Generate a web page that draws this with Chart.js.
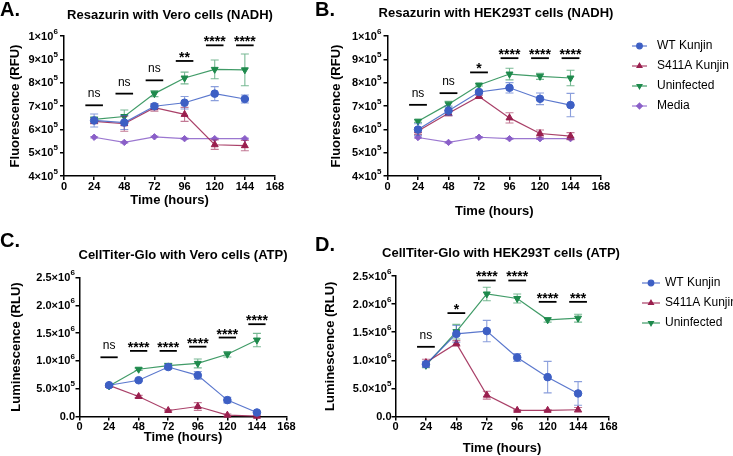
<!DOCTYPE html>
<html><head><meta charset="utf-8">
<script src="https://cdn.jsdelivr.net/npm/chart.js@4.4.1/dist/chart.umd.min.js"></script>
<style>
html,body{margin:0;padding:0;background:#fff;}
#wrap{position:relative;width:733px;height:456px;overflow:hidden;background:#fff;}
canvas{position:absolute;left:0;top:0;}
</style></head><body>
<div id="wrap">
<canvas id="cA" width="733" height="456"></canvas>
<canvas id="cB" width="733" height="456"></canvas>
<canvas id="cC" width="733" height="456"></canvas>
<canvas id="cD" width="733" height="456"></canvas>
</div>
<script>
// ---------- data ----------
const hours = [24, 48, 72, 96, 120, 144];
const seriesNames = ['WT Kunjin', 'S411A Kunjin', 'Uninfected', 'Media'];
const xTicks = ['0', '24', '48', '72', '96', '120', '144', '168'];
// y tick labels: mantissa part and power-of-ten exponent (drawn as superscript)
const yTickBaseAB = ['4×10', '5×10', '6×10', '7×10', '8×10', '9×10', '1×10'];
const yTickExpAB = ['5', '5', '5', '5', '5', '5', '6'];
const yTickBaseCD = ['0.0', '5.0×10', '1.0×10', '1.5×10', '2.0×10', '2.5×10'];
const yTickExpCD = ['', '5', '6', '6', '6', '6'];

// A: Resazurin with Vero cells (NADH)
const A_WT = [638000, 629000, 699000, 714000, 753000, 730000];
const A_WT_err = [28000, 30000, 10000, 27000, 30000, 17000];
const A_S411A = [634000, 624000, 693000, 664000, 534000, 530000];
const A_S411A_err = [10000, 32000, 15000, 30000, 20000, 22000];
const A_Uninf = [643000, 655000, 753000, 820000, 857000, 855000];
const A_Uninf_err = [10000, 28000, 13000, 25000, 40000, 68000];
const A_Media = [566000, 544000, 568000, 560000, 560000, 560000];
const A_Media_err = [3000, 3000, 3000, 3000, 3000, 3000];
const A_sigText = ['ns', 'ns', 'ns', '**', '****', '****'];
const A_sigY = [703000, 753000, 810000, 893000, 960000, 960000];

// B: Resazurin with HEK293T cells (NADH)
const B_WT = [599000, 680000, 760000, 778000, 731000, 704000];
const B_WT_err = [25000, 20000, 7000, 22000, 25000, 50000];
const B_S411A = [593000, 669000, 741000, 649000, 582000, 571000];
const B_S411A_err = [15000, 12000, 5000, 22000, 15000, 15000];
const B_Uninf = [635000, 708000, 790000, 837000, 827000, 820000];
const B_Uninf_err = [5000, 12000, 4000, 25000, 13000, 33000];
const B_Media = [565000, 544000, 566000, 560000, 560000, 560000];
const B_Media_err = [3000, 3000, 3000, 3000, 3000, 3000];
const B_sigText = ['ns', 'ns', '*', '****', '****', '****'];
const B_sigY = [705000, 755000, 844000, 905000, 905000, 905000];

// C: CellTiter-Glo with Vero cells (ATP)
const C_WT = [562000, 652000, 890000, 740000, 295000, 72000];
const C_WT_err = [20000, 20000, 40000, 70000, 50000, 15000];
const C_S411A = [560000, 360000, 108000, 180000, 24000, 5000];
const C_S411A_err = [10000, 20000, 10000, 70000, 20000, 15000];
const C_Uninf = [550000, 850000, 915000, 955000, 1120000, 1375000];
const C_Uninf_err = [20000, 20000, 40000, 80000, 50000, 120000];
const C_sigText = ['ns', '****', '****', '****', '****', '****'];
const C_sigY = [1065000, 1180000, 1180000, 1256000, 1420000, 1660000];

// D: CellTiter-Glo with HEK293T cells (ATP)
const D_WT = [930000, 1470000, 1520000, 1050000, 700000, 410000];
const D_WT_err = [50000, 150000, 190000, 70000, 280000, 210000];
const D_S411A = [960000, 1300000, 380000, 110000, 110000, 120000];
const D_S411A_err = [60000, 50000, 70000, 10000, 10000, 40000];
const D_Uninf = [910000, 1510000, 2180000, 2100000, 1720000, 1750000];
const D_Uninf_err = [40000, 130000, 120000, 80000, 40000, 70000];
const D_sigText = ['ns', '*', '****', '****', '****', '***'];
const D_sigY = [1240000, 1840000, 2420000, 2420000, 2040000, 2040000];

// ---------- styles ----------
const FONT = '"Liberation Sans", Arial, Helvetica, sans-serif';
const styles = [
  {color: '#3D5FC4', line: 'rgba(61,95,196,0.85)', err: 'rgba(61,95,196,0.6)', pointStyle: 'circle', rotation: 0, radius: 3.8},
  {color: '#9A1F4E', line: 'rgba(154,31,78,0.85)', err: 'rgba(154,31,78,0.6)', pointStyle: 'triangle', rotation: 0, radius: 4},
  {color: '#1E8A4C', line: 'rgba(30,138,76,0.85)', err: 'rgba(30,138,76,0.6)', pointStyle: 'triangle', rotation: 180, radius: 4},
  {color: '#8A5FC8', line: 'rgba(138,95,200,0.85)', err: 'rgba(138,95,200,0.6)', pointStyle: 'rectRot', rotation: 0, radius: 3.2}
];

function makeDatasets(valsList, errList) {
  return valsList.map((vals, k) => {
    const s = styles[k];
    return {
      label: seriesNames[k],
      data: hours.map((h, i) => ({x: h, y: vals[i]})),
      errors: errList[k],
      errColor: s.err,
      borderColor: s.line,
      borderWidth: 1.2,
      backgroundColor: s.color,
      pointBackgroundColor: s.color,
      pointBorderColor: s.color,
      pointBorderWidth: 1,
      pointStyle: s.pointStyle,
      pointRotation: s.rotation,
      pointRadius: s.radius,
      tension: 0,
      clip: false,
      legendStyle: s
    };
  });
}

// ---------- plugins ----------
const errorBars = {
  id: 'errorBars',
  beforeDatasetDraw(chart, args) {
    const ds = chart.data.datasets[args.index];
    if (!ds.errors) return;
    const ys = chart.scales.y, ctx = chart.ctx;
    ctx.save();
    ctx.strokeStyle = ds.errColor;
    ctx.lineWidth = 1.1;
    args.meta.data.forEach((pt, i) => {
      const v = ds.data[i].y, e = ds.errors[i];
      const yt = ys.getPixelForValue(v + e), yb = ys.getPixelForValue(v - e);
      const x = pt.x;
      ctx.beginPath();
      ctx.moveTo(x, yt); ctx.lineTo(x, yb);
      ctx.moveTo(x - 4, yt); ctx.lineTo(x + 4, yt);
      ctx.moveTo(x - 4, yb); ctx.lineTo(x + 4, yb);
      ctx.stroke();
    });
    ctx.restore();
  }
};

const yTickLabels = {
  id: 'yTickLabels',
  afterDraw(chart, args, opts) {
    if (!opts || !opts.base) return;
    const ys = chart.scales.y, ctx = chart.ctx;
    const xRight = chart.chartArea.left - opts.gap;
    ctx.save();
    ctx.fillStyle = '#000';
    ctx.textBaseline = 'middle';
    ctx.textAlign = 'right';
    ys.ticks.forEach((t, i) => {
      const y = ys.getPixelForValue(t.value);
      let x = xRight;
      const exp = opts.exp[i];
      if (exp) {
        ctx.font = 'bold 8px ' + FONT;
        ctx.fillText(exp, x, y - 4.5);
        x -= ctx.measureText(exp).width + 0.3;
      }
      ctx.font = 'bold 11px ' + FONT;
      ctx.fillText(opts.base[i], x, y + 0.5);
    });
    ctx.restore();
  }
};

const sigMarks = {
  id: 'sigMarks',
  afterDatasetsDraw(chart, args, opts) {
    if (!opts || !opts.text) return;
    const xs = chart.scales.x, ys = chart.scales.y, ctx = chart.ctx;
    ctx.save();
    ctx.strokeStyle = '#000';
    ctx.fillStyle = '#000';
    ctx.lineWidth = 1.8;
    ctx.textAlign = 'center';
    opts.text.forEach((t, i) => {
      const y = ys.getPixelForValue(opts.y[i]);
      const x0 = xs.getPixelForValue(hours[i] - 7), x1 = xs.getPixelForValue(hours[i] + 7);
      const xc = xs.getPixelForValue(hours[i]);
      ctx.beginPath(); ctx.moveTo(x0, y); ctx.lineTo(x1, y); ctx.stroke();
      ctx.textBaseline = 'alphabetic';
      if (t === 'ns') {
        ctx.font = '12px ' + FONT;
        ctx.fillText(t, xc, y - 8);
      } else {
        ctx.font = 'bold 14px ' + FONT;
        ctx.fillText(t, xc, y + 1);
      }
    });
    ctx.restore();
  }
};

const panelText = {
  id: 'panelText',
  afterDraw(chart, args, opts) {
    if (!opts || !opts.title) return;
    const ctx = chart.ctx;
    ctx.save();
    ctx.fillStyle = '#000';
    ctx.textBaseline = 'middle';
    ctx.textAlign = 'left';
    ctx.font = 'bold 20px ' + FONT;
    ctx.fillText(opts.letter, opts.lx, opts.ly);
    ctx.textAlign = 'center';
    ctx.font = 'bold 13px ' + FONT;
    ctx.fillText(opts.title, opts.tx, opts.ty);
    ctx.restore();
  }
};

const sideLegend = {
  id: 'sideLegend',
  afterDraw(chart, args, opts) {
    if (!opts || !opts.show) return;
    const ctx = chart.ctx;
    ctx.save();
    chart.data.datasets.forEach((ds, i) => {
      const s = ds.legendStyle;
      const y = opts.y0 + i * opts.dy;
      ctx.strokeStyle = s.line; ctx.lineWidth = 1.2;
      ctx.beginPath(); ctx.moveTo(opts.x, y); ctx.lineTo(opts.x + opts.lineW, y); ctx.stroke();
      ctx.fillStyle = s.color; ctx.strokeStyle = s.color;
      Chart.helpers.drawPoint(ctx, {pointStyle: s.pointStyle, rotation: s.rotation, radius: 2.8, borderWidth: 1}, opts.x + opts.lineW / 2, y);
      ctx.fillStyle = '#000';
      ctx.font = '12px ' + FONT;
      ctx.textAlign = 'left'; ctx.textBaseline = 'middle';
      ctx.fillText(ds.label, opts.textX, y);
    });
    ctx.restore();
  }
};

// ---------- chart builder ----------
function makeChart(id, cfg) {
  const half = 13 * 1.2 / 2;
  const yLeft = cfg.yTitleX - half;
  const xBottom = cfg.xTitleY + half;
  new Chart(document.getElementById(id), {
    type: 'line',
    data: {datasets: cfg.datasets},
    options: {
      responsive: false, animation: false, events: [],
      layout: {padding: {left: yLeft, top: cfg.axisTop, right: 733 - cfg.axisRight, bottom: 456 - xBottom}},
      scales: {
        x: {
          type: 'linear', min: 0, max: 168,
          ticks: {stepSize: 24, autoSkip: false, maxRotation: 0, padding: 0, color: '#000',
                  font: {family: FONT, size: 11, weight: 'bold'},
                  callback: (v, i) => xTicks[i]},
          grid: {display: true, drawOnChartArea: false, drawTicks: true, tickLength: 4, color: '#000', lineWidth: 1.5},
          border: {display: true, color: '#000', width: 1.5},
          title: {display: true, text: 'Time (hours)', color: '#000', padding: 0,
                  font: {family: FONT, size: 13, weight: 'bold'}},
          afterFit(s) { s.height = xBottom - cfg.axisBottom; }
        },
        y: {
          type: 'linear', min: cfg.yMin, max: cfg.yMax,
          ticks: {display: false, stepSize: cfg.yStep},
          grid: {display: true, drawOnChartArea: false, drawTicks: true, tickLength: 4, color: '#000', lineWidth: 1.5},
          border: {display: true, color: '#000', width: 1.5},
          title: {display: true, text: cfg.yTitle, color: '#000', padding: 0,
                  font: {family: FONT, size: 13, weight: 'bold'}},
          afterFit(s) { s.width = cfg.axisLeft - yLeft; }
        }
      },
      plugins: {
        legend: {display: false}, tooltip: {enabled: false},
        sigMarks: {text: cfg.sigText, y: cfg.sigY},
        yTickLabels: {base: cfg.yBase, exp: cfg.yExp, gap: cfg.yGap},
        panelText: cfg.text,
        sideLegend: cfg.legend || {show: false}
      }
    },
    plugins: [errorBars, sigMarks, yTickLabels, panelText, sideLegend]
  });
}

makeChart('cA', {
  datasets: makeDatasets([A_WT, A_S411A, A_Uninf, A_Media], [A_WT_err, A_S411A_err, A_Uninf_err, A_Media_err]),
  axisLeft: 64, axisRight: 275, axisTop: 36, axisBottom: 176, yTitleX: 15.5, xTitleY: 200,
  yMin: 400000, yMax: 1000000, yStep: 100000, yBase: yTickBaseAB, yExp: yTickExpAB, yGap: 6, yTitle: 'Fluorescence (RFU)',
  sigText: A_sigText, sigY: A_sigY,
  text: {letter: 'A.', lx: 0, ly: 10, title: 'Resazurin with Vero cells (NADH)', tx: 170, ty: 15}
});
makeChart('cB', {
  datasets: makeDatasets([B_WT, B_S411A, B_Uninf, B_Media], [B_WT_err, B_S411A_err, B_Uninf_err, B_Media_err]),
  axisLeft: 387.5, axisRight: 601, axisTop: 36, axisBottom: 176, yTitleX: 336.5, xTitleY: 211.5,
  yMin: 400000, yMax: 1000000, yStep: 100000, yBase: yTickBaseAB, yExp: yTickExpAB, yGap: 6, yTitle: 'Fluorescence (RFU)',
  sigText: B_sigText, sigY: B_sigY,
  text: {letter: 'B.', lx: 315, ly: 10, title: 'Resazurin with HEK293T cells (NADH)', tx: 496, ty: 13},
  legend: {show: true, x: 632, y0: 46, dy: 20, lineW: 15, textX: 657}
});
makeChart('cC', {
  datasets: makeDatasets([C_WT, C_S411A, C_Uninf], [C_WT_err, C_S411A_err, C_Uninf_err]),
  axisLeft: 79.5, axisRight: 286.5, axisTop: 277.5, axisBottom: 416.5, yTitleX: 16.5, xTitleY: 437,
  yMin: 0, yMax: 2500000, yStep: 500000, yBase: yTickBaseCD, yExp: yTickExpCD, yGap: 4.5, yTitle: 'Luminescence (RLU)',
  sigText: C_sigText, sigY: C_sigY,
  text: {letter: 'C.', lx: 0, ly: 241, title: 'CellTiter-Glo with Vero cells (ATP)', tx: 183, ty: 255}
});
makeChart('cD', {
  datasets: makeDatasets([D_WT, D_S411A, D_Uninf], [D_WT_err, D_S411A_err, D_Uninf_err]),
  axisLeft: 395.5, axisRight: 608.5, axisTop: 276, axisBottom: 416.5, yTitleX: 330.5, xTitleY: 448,
  yMin: 0, yMax: 2500000, yStep: 500000, yBase: yTickBaseCD, yExp: yTickExpCD, yGap: 4, yTitle: 'Luminescence (RLU)',
  sigText: D_sigText, sigY: D_sigY,
  text: {letter: 'D.', lx: 315, ly: 245, title: 'CellTiter-Glo with HEK293T cells (ATP)', tx: 501, ty: 253},
  legend: {show: true, x: 642, y0: 283, dy: 20, lineW: 18, textX: 665}
});
</script>
</body></html>
